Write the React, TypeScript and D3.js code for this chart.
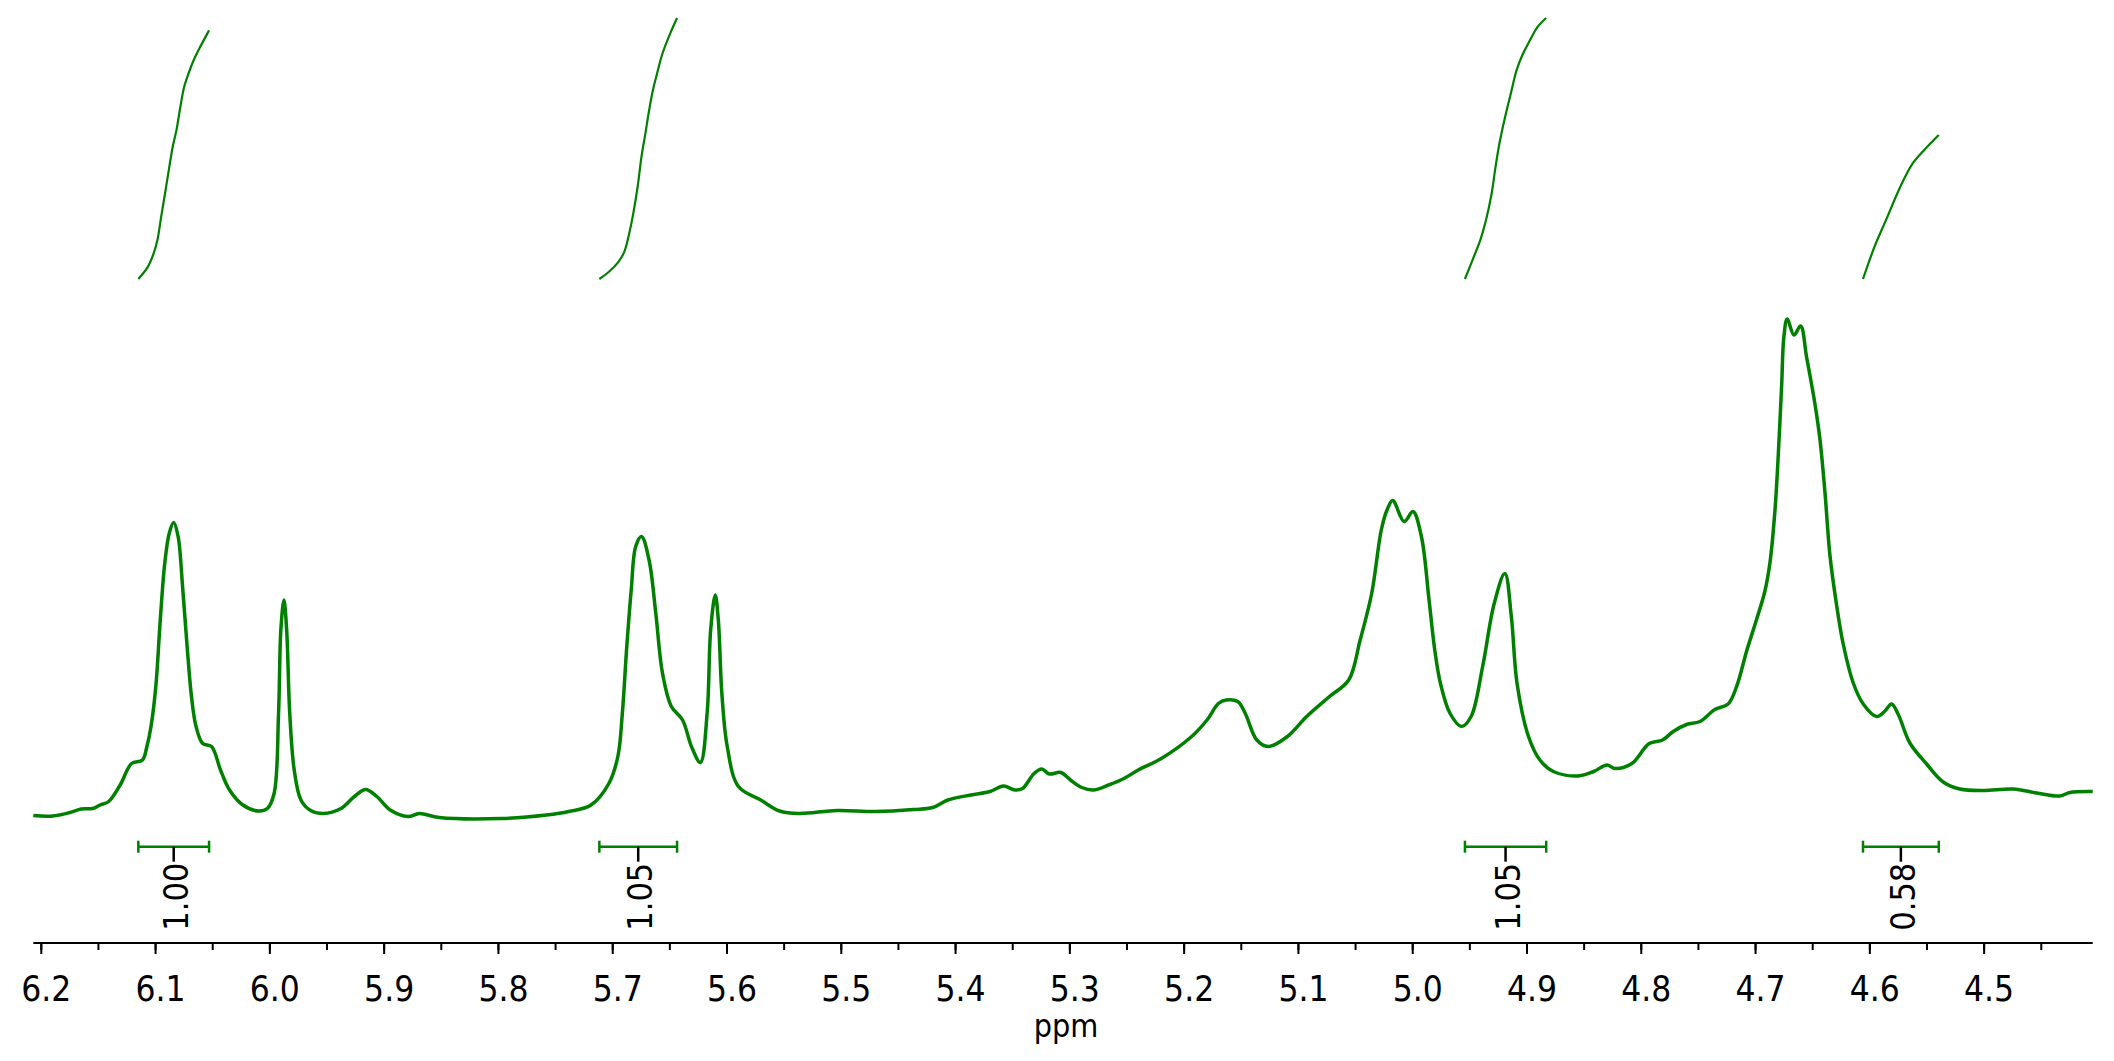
import React from "react";
import * as d3 from "d3";

// ---- Spectrum (ppm, intensity in arbitrary units) ----
const PPM = [
  6.207, 6.19, 6.175, 6.165, 6.155, 6.1486, 6.141, 6.131, 6.121, 6.1115, 6.1076, 6.104, 6.0998, 6.0959, 6.092,
  6.0881, 6.0842, 6.0803, 6.0764, 6.0724, 6.0686, 6.0646, 6.0588, 6.051, 6.0432, 6.0353, 6.0236, 6.01, 6.0022,
  5.9963, 5.9924, 5.9904, 5.9877, 5.9853, 5.9826, 5.9787, 5.9728, 5.965, 5.9533, 5.9378, 5.926, 5.9162, 5.9064,
  5.8947, 5.879, 5.8693, 5.8518, 5.797, 5.758, 5.7384, 5.719, 5.7034, 5.6955, 5.6916, 5.6877, 5.6838, 5.6799,
  5.6748, 5.6682, 5.6623, 5.6564, 5.6487, 5.6389, 5.6311, 5.6233, 5.6174, 5.6143, 5.6103, 5.6076, 5.6045, 5.5998,
  5.59, 5.5705, 5.554, 5.537, 5.5038, 5.4703, 5.4368, 5.42, 5.4067, 5.3866, 5.3698, 5.3581, 5.348, 5.3414, 5.3313,
  5.3246, 5.318, 5.3079, 5.2995, 5.2895, 5.2795, 5.2661, 5.2527, 5.2402, 5.22, 5.1934, 5.18, 5.17, 5.1632, 5.1531,
  5.1465, 5.1364, 5.1264, 5.1096, 5.0928, 5.0728, 5.056, 5.046, 5.0359, 5.0275, 5.0225, 5.0175, 5.0075, 4.9998,
  4.9924, 4.9857, 4.9807, 4.9757, 4.9673, 4.9572, 4.9489, 4.9388, 4.9287, 4.9194, 4.9137, 4.9087, 4.8987, 4.8887,
  4.8769, 4.8551, 4.8417, 4.83, 4.8233, 4.8082, 4.7931, 4.7814, 4.772, 4.7604, 4.7487, 4.7356, 4.724, 4.7166,
  4.7078, 4.699, 4.6918, 4.6874, 4.683, 4.6802, 4.6772, 4.6752, 4.6723, 4.6664, 4.6606, 4.6553, 4.6481, 4.6437,
  4.6393, 4.6349, 4.6291, 4.6233, 4.6145, 4.6058, 4.594, 4.5868, 4.581, 4.5751, 4.565, 4.5503, 4.5358, 4.5212,
  4.5008, 4.4746, 4.454, 4.4337, 4.425, 4.405,
];
const INTENSITY = [
  0.9, 0.8, 1.5, 2.2, 2.3, 3.0, 3.7, 7.0, 11.3, 12.0, 14.7, 18.7, 26.7, 40, 51.3,
  57.3, 59.5, 56.7, 46.7, 34.7, 24.7, 18.7, 15.3, 14.7, 10, 6, 3, 1.8, 2.3,
  5.3, 21.3, 38, 44, 38, 21.3, 10, 4, 2, 1.3, 2.3, 4.7, 6.1, 4.7,
  2, 0.7, 1.3, 0.5, 0.3, 1, 1.7, 3, 7.3, 12.7, 21.3, 34.7, 46, 54.7,
  56.7, 52, 41.3, 29.3, 22.7, 20, 14.7, 11.5, 21.3, 38, 45, 40, 25.3, 14.7,
  6.7, 4, 1.8, 1.3, 1.9, 1.7, 2.1, 2.5, 4, 5, 5.7, 6.8, 6, 6.3, 9.3,
  10.2, 9.2, 9.5, 8, 6.5, 6, 7, 8.3, 10, 12.3, 16.7, 20, 23.3, 24, 23.7,
  21.3, 16, 14.7, 16.7, 20.7, 24.7, 28, 36, 45.3, 58, 62, 63.9, 59.7, 61.7,
  56.7, 44, 34, 27.3, 21.3, 18.7, 20.7, 30.7, 43.3, 49.3, 40.7, 27.3, 16.7, 12,
  9.7, 8.8, 9.7, 11, 10.3, 11.3, 15.3, 16, 17.7, 19.1, 19.7, 22.1, 23.2, 26.7,
  33.8, 40.2, 45.8, 51.5, 62, 72.7, 86.8, 96.7, 100.2, 97, 98.8, 92.5, 83.3, 76.2,
  65.6, 52.9, 43, 35.2, 27.4, 23.2, 20.7, 21.8, 23.2, 21.1, 15.4, 11.2, 7.6, 6.2,
  5.9, 6.2, 5.4, 4.8, 5.5, 5.7,
];

// ---- Integral curves (ppm, cumulative normalised integral) ----
const INT1_PPM = [6.1151, 6.1068, 6.1017, 6.0984, 6.0951, 6.0917, 6.0884, 6.085, 6.0817, 6.0783, 6.075, 6.0716, 6.0666, 6.0616, 6.0532];
const INT1_VAL = [0, 0.049, 0.103, 0.157, 0.251, 0.345, 0.439, 0.532, 0.6, 0.693, 0.773, 0.821, 0.881, 0.928, 1.0];
const INT2_PPM = [5.7117, 5.7033, 5.695, 5.6899, 5.6849, 5.6815, 5.6782, 5.6748, 5.6714, 5.6681, 5.6648, 5.6615, 5.6564, 5.6497, 5.6437];
const INT2_VAL = [0, 0.029, 0.069, 0.109, 0.197, 0.277, 0.371, 0.493, 0.586, 0.68, 0.76, 0.821, 0.908, 0.988, 1.05];
const INT3_PPM = [4.9543, 4.9476, 4.9408, 4.9358, 4.9309, 4.9275, 4.9241, 4.9191, 4.9141, 4.9091, 4.904, 4.8973, 4.8906, 4.8832];
const INT3_VAL = [0, 0.077, 0.157, 0.238, 0.345, 0.452, 0.546, 0.653, 0.747, 0.84, 0.901, 0.961, 1.015, 1.05];
const INT4_PPM = [4.606, 4.5959, 4.5859, 4.5759, 4.5691, 4.5625, 4.5524, 4.5397];
const INT4_VAL = [0, 0.13, 0.237, 0.345, 0.411, 0.465, 0.519, 0.579];

const INTEGRAL_LABELS = ["1.00", "1.05", "1.05", "0.58"];
const INTEGRAL_FROM = [6.1151, 5.7117, 4.9543, 4.606];
const INTEGRAL_TO = [6.0532, 5.6437, 4.8832, 4.5397];

const X_DOMAIN = [6.207, 4.405];
const X_LABEL = "ppm";

const GREEN = "#008000";
const FONT = "'DejaVu Sans Condensed', 'DejaVu Sans', sans-serif";

export default function App() {
  React.useEffect(() => {
    document.body.style.margin = "0";
    document.body.style.overflow = "hidden";
  }, []);

  const W = 2114;
  const H = 1061;
  const x = d3.scaleLinear().domain(X_DOMAIN).range([33.3, 2092.7]);
  const ySpec = d3.scaleLinear().domain([0, 100]).range([820, 320]);
  const yInt = d3.scaleLinear().domain([0, 1]).range([279, 30.4]);

  const specData = PPM.map((p, i) => [p, INTENSITY[i]] as [number, number]);
  const specLine = d3
    .line<[number, number]>()
    .x((d) => x(d[0]))
    .y((d) => ySpec(d[1]))
    .curve(d3.curveCatmullRom.alpha(0.5));

  const intLine = d3
    .line<[number, number]>()
    .x((d) => x(d[0]))
    .y((d) => yInt(d[1]))
    .curve(d3.curveCatmullRom.alpha(0.5));

  const integrals = [
    [INT1_PPM, INT1_VAL],
    [INT2_PPM, INT2_VAL],
    [INT3_PPM, INT3_VAL],
    [INT4_PPM, INT4_VAL],
  ].map(([p, v]) => p.map((pp, i) => [pp, v[i]] as [number, number]));

  const axisY = 943;
  const major = x.ticks(18).filter((t) => t <= 6.2 + 1e-9 && t >= 4.5 - 1e-9);
  const minor = x.ticks(36);
  const fmt = d3.format(".1f");

  const bracketY = 846.7;

  return (
    <svg width={W} height={H} style={{ display: "block", background: "#fff" }} fontFamily={FONT}>
      {/* integral curves */}
      {integrals.map((d, i) => (
        <path key={"int" + i} d={intLine(d) || ""} fill="none" stroke={GREEN} strokeWidth={2.2} />
      ))}
      {/* spectrum */}
      <path d={specLine(specData) || ""} fill="none" stroke={GREEN} strokeWidth={3.5} strokeLinejoin="round" />

      {/* integral brackets and labels */}
      {INTEGRAL_LABELS.map((lab, i) => {
        const x1 = x(INTEGRAL_FROM[i]);
        const x2 = x(INTEGRAL_TO[i]);
        const cx = (x1 + x2) / 2;
        return (
          <g key={"br" + i}>
            <line x1={x1} x2={x2} y1={bracketY} y2={bracketY} stroke={GREEN} strokeWidth={2.5} />
            <line x1={x1} x2={x1} y1={bracketY - 6} y2={bracketY + 6} stroke={GREEN} strokeWidth={2.5} />
            <line x1={x2} x2={x2} y1={bracketY - 6} y2={bracketY + 6} stroke={GREEN} strokeWidth={2.5} />
            <line x1={cx} x2={cx} y1={bracketY} y2={bracketY + 15} stroke="#000" strokeWidth={2.5} />
            <text
              transform={`translate(${cx + 2},${bracketY + 16}) rotate(-90)`}
              textAnchor="end"
              dominantBaseline="central"
              fontSize={34}
              fill="#000"
            >
              {lab}
            </text>
          </g>
        );
      })}

      {/* x axis */}
      <line x1={x.range()[0]} x2={x.range()[1]} y1={axisY} y2={axisY} stroke="#000" strokeWidth={2} />
      {minor.map((t) => (
        <line key={"mn" + t} x1={x(t)} x2={x(t)} y1={axisY} y2={axisY + 7} stroke="#000" strokeWidth={2} />
      ))}
      {major.map((t) => (
        <g key={"mj" + t}>
          <line x1={x(t)} x2={x(t)} y1={axisY} y2={axisY + 11} stroke="#000" strokeWidth={2} />
          <text x={x(t) + 5} y={1001} textAnchor="middle" fontSize={35} fill="#000">
            {fmt(t)}
          </text>
        </g>
      ))}
      <text x={1066} y={1037} textAnchor="middle" fontSize={32} fill="#000">
        {X_LABEL}
      </text>
    </svg>
  );
}
